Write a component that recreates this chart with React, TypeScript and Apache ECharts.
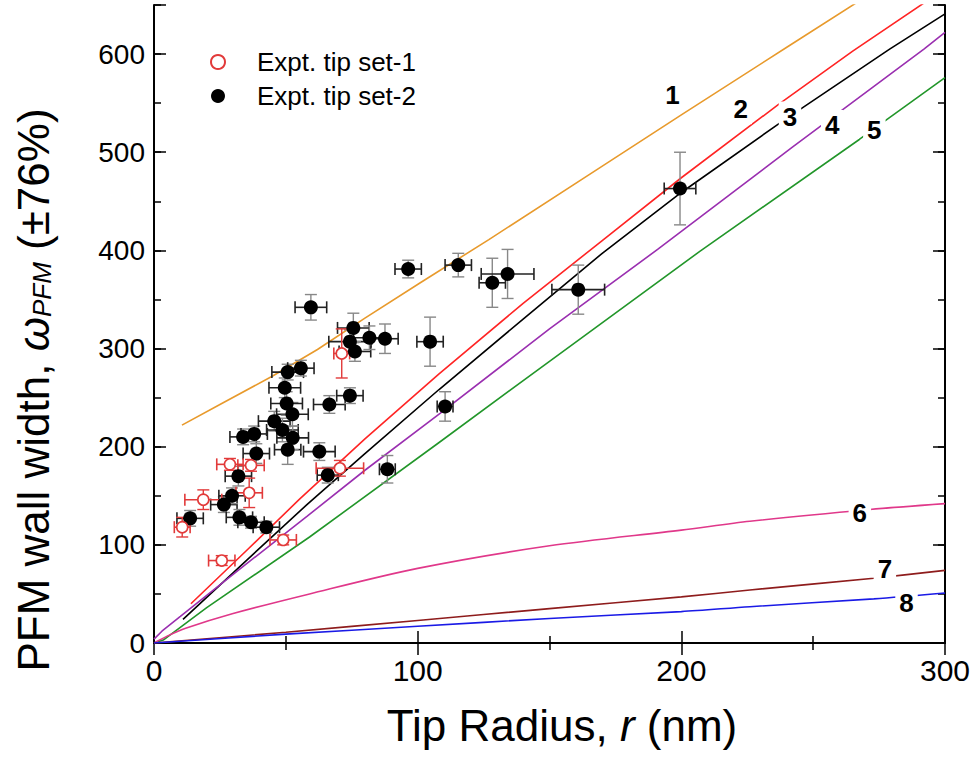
import React, { useEffect, useRef } from "react";
import * as echarts from "echarts";

type Pt = [number, number, number, number]; // r, width, r-error, width-error

const setOneName = "Expt. tip set-1";
const setTwoName = "Expt. tip set-2";

const tipSet1: Pt[] = [
  [10.7, 118, 3, 10],
  [18.7, 146, 7, 10],
  [25.7, 84, 5, 5],
  [28.8, 182, 5, 6],
  [36.1, 153, 5, 15],
  [36.8, 181, 5, 6],
  [49, 105, 5, 5],
  [70.5, 178, 9, 8],
  [71.2, 295, 3, 25],
];

const tipSet2: Pt[] = [
  [13.7, 127, 5, 8],
  [26.5, 141, 5, 8],
  [29.6, 150, 5, 8],
  [32, 170, 5, 10],
  [33.8, 210, 5, 8],
  [38, 213, 5, 8],
  [38.8, 193, 5, 10],
  [32.4, 128, 5, 8],
  [36.8, 123, 5, 6],
  [42.6, 118, 5, 6],
  [45.6, 226, 6, 10],
  [48.7, 217, 6, 12],
  [50.7, 197, 5, 15],
  [52.6, 209, 6, 12],
  [52.5, 233, 6, 12],
  [50.3, 244, 6, 12],
  [49.6, 260, 6, 10],
  [50.7, 276, 6, 8],
  [55.7, 280, 5, 8],
  [59.5, 342, 6, 13],
  [62.7, 195, 6, 9],
  [65.9, 171, 4, 8],
  [66.5, 243, 6, 9],
  [74.3, 252, 5, 8],
  [74.3, 307, 8, 12],
  [75.6, 321, 6, 15],
  [76.2, 297, 6, 10],
  [81.7, 311, 6, 12],
  [87.6, 310, 5, 15],
  [88.5, 177, 3, 14],
  [96.4, 381, 5, 9],
  [104.7, 307, 5, 25],
  [110.4, 241, 3, 15],
  [115.4, 385, 5, 12],
  [128.3, 367, 5, 25],
  [134.1, 376, 10, 25],
  [160.9, 360, 10, 25],
  [199.5, 463, 6, 37],
];

const curve1 = [[10.6, 222], [25, 243], [45, 272], [62, 299], [80, 331], [101, 367], [127, 411], [169, 484], [200, 538], [240, 607], [268, 655]];
const curve2 = [[14, 40], [35, 94], [55, 146], [80, 208], [108, 274], [140, 346], [170, 410], [200, 474], [237, 549], [265, 603], [292, 652]];
const curve3 = [[11, 24], [35, 84], [58, 141], [80, 193], [108, 258], [140, 330], [170, 397], [200, 459], [238, 531], [279, 605], [300, 641]];
const curve4 = [[0, 4], [3, 12], [10, 27], [30, 70], [58, 129], [80, 176], [108.5, 234], [150, 320], [191, 401], [242, 505], [292, 605], [300, 622]];
const curve5 = [[0, 0], [3.5, 3], [20, 36], [59, 108], [108, 204], [150, 287], [207, 399], [267.5, 513], [300, 576]];
const curve6 = [[0, 0], [5, 7], [12, 15], [30, 30], [59, 50], [100, 76], [150, 99], [200, 115], [226, 124], [271.5, 136], [300, 142]];
const curve7 = [[0, 0], [50, 11], [100, 23], [150, 35], [200, 47], [226, 54], [273, 66], [300, 74]];
const curve8 = [[0, 0], [50, 9], [100, 17], [150, 25], [200, 32], [226, 37], [273, 45], [300, 51]];

const curveNames = ["1", "2", "3", "4", "5", "6", "7", "8"];
const curveLabelAt = [
  [196.6, 558.7],
  [222.5, 543.9],
  [241.2, 536.4],
  [257.2, 527.8],
  [273.2, 522.7],
  [267.7, 132.3],
  [277.2, 75.2],
  [285.4, 40.5],
];

const FONT = '"Liberation Sans", Arial, Helvetica, sans-serif';
const curves = [curve1, curve2, curve3, curve4, curve5, curve6, curve7, curve8];
const curveColors = ["#E89A2C", "#FF2424", "#000000", "#9A2FB0", "#22962A", "#E0388A", "#8E1C1C", "#1A1AE6"];
const curveSmooth = [false, false, false, false, false, 0.3, 0.3, 0.3];

function errorBars(data: Pt[], hColor: string, vColor: string, name: string) {
  return {
    type: "custom",
    name,
    z: 3,
    silent: true,
    data,
    encode: { x: 0, y: 1 },
    renderItem: (_p: any, api: any) => {
      const x = api.value(0);
      const y = api.value(1);
      const ex = api.value(2);
      const ey = api.value(3);
      const l = api.coord([x - ex, y]);
      const r = api.coord([x + ex, y]);
      const t = api.coord([x, y + ey]);
      const b = api.coord([x, y - ey]);
      const cap = 6;
      const hs = { stroke: hColor, lineWidth: 1.6, fill: "none" };
      const vs = { stroke: vColor, lineWidth: 1.4, fill: "none" };
      return {
        type: "group",
        children: [
          { type: "line", shape: { x1: l[0], y1: l[1], x2: r[0], y2: r[1] }, style: hs },
          { type: "line", shape: { x1: l[0], y1: l[1] - cap, x2: l[0], y2: l[1] + cap }, style: hs },
          { type: "line", shape: { x1: r[0], y1: r[1] - cap, x2: r[0], y2: r[1] + cap }, style: hs },
          { type: "line", shape: { x1: t[0], y1: t[1], x2: b[0], y2: b[1] }, style: vs },
          { type: "line", shape: { x1: t[0] - cap, y1: t[1], x2: t[0] + cap, y2: t[1] }, style: vs },
          { type: "line", shape: { x1: b[0] - cap, y1: b[1], x2: b[0] + cap, y2: b[1] }, style: vs },
        ],
      };
    },
  };
}

export default function App() {
  const ref = useRef<HTMLDivElement>(null);
  useEffect(() => {
    if (!ref.current) return;
    const chart = echarts.init(ref.current, undefined, { renderer: "svg" });
    const axisLine = { show: true, lineStyle: { color: "#000", width: 2 } };
    const lineSeries = curves.map((c, i) => ({
      type: "line",
      name: "curve" + curveNames[i],
      data: c,
      smooth: curveSmooth[i],
      showSymbol: false,
      symbol: "none",
      silent: true,
      z: 2,
      lineStyle: { color: curveColors[i], width: 1.6 },
    }));
    const labelSeries = {
      type: "scatter",
      name: "curveLabels",
      z: 6,
      silent: true,
      symbolSize: 1,
      itemStyle: { color: "#ffffff", opacity: 0 },
      data: curveLabelAt.map((p, i) => ({ value: p, name: curveNames[i] })),
      label: {
        show: true,
        position: "inside",
        formatter: "{b}",
        fontSize: 26,
        fontWeight: "bold",
        fontFamily: FONT,
        color: "#000000",
        opacity: 1,
        textBorderWidth: 0,
        backgroundColor: "#ffffff",
        padding: [2, 4],
      },
    };
    chart.setOption({
      animation: false,
      backgroundColor: "#fff",
      grid: { left: 154, right: 33, top: 5, bottom: 114, containLabel: false },
      legend: {
        data: [setOneName, setTwoName],
        orient: "vertical",
        left: 205,
        top: 44,
        itemWidth: 68,
        itemHeight: 14,
        itemGap: 8,
        textStyle: { fontSize: 26, fontFamily: FONT, color: "#000", lineHeight: 26 },
      },
      xAxis: [
        {
          type: "value",
          min: 0,
          max: 300,
          interval: 100,
          position: "bottom",
          axisLine,
          axisTick: { show: true, inside: true, length: 12, lineStyle: { color: "#000", width: 1.5 } },
          minorTick: { show: true, splitNumber: 2, length: 7, lineStyle: { color: "#000", width: 1.5 } },
          splitLine: { show: false },
          minorSplitLine: { show: false },
          axisLabel: { fontSize: 30, color: "#000", fontFamily: FONT, margin: 12 },
        },
        {
          type: "value",
          min: 0,
          max: 300,
          interval: 100,
          position: "top",
          axisLine,
          axisTick: { show: true, inside: true, length: 12, lineStyle: { color: "#000", width: 1.5 } },
          minorTick: { show: true, splitNumber: 2, length: 7, lineStyle: { color: "#000", width: 1.5 } },
          splitLine: { show: false },
          axisLabel: { show: false },
        },
      ],
      yAxis: [
        {
          type: "value",
          min: 0,
          max: 650,
          interval: 50,
          position: "left",
          axisLine,
          axisTick: { show: true, inside: true, length: 7, lineStyle: { color: "#000", width: 1.5 } },
          splitLine: { show: false },
          axisLabel: {
            fontSize: 28,
            color: "#000",
            fontFamily: FONT,
            margin: 9,
            formatter: (v: number) => (v % 100 === 0 ? String(v) : ""),
          },
        },
        {
          type: "value",
          min: 0,
          max: 650,
          interval: 100,
          position: "left",
          axisLine: { show: false },
          axisTick: { show: true, inside: true, length: 12, lineStyle: { color: "#000", width: 1.5 } },
          splitLine: { show: false },
          axisLabel: { show: false },
        },
        {
          type: "value",
          min: 0,
          max: 650,
          interval: 50,
          position: "right",
          axisLine,
          axisTick: { show: true, inside: true, length: 7, lineStyle: { color: "#000", width: 1.5 } },
          splitLine: { show: false },
          axisLabel: { show: false },
        },
        {
          type: "value",
          min: 0,
          max: 650,
          interval: 100,
          position: "right",
          axisLine: { show: false },
          axisTick: { show: true, inside: true, length: 12, lineStyle: { color: "#000", width: 1.5 } },
          splitLine: { show: false },
          axisLabel: { show: false },
        },
      ],
      graphic: [
        {
          type: "text",
          x: 33,
          y: 390,
          rotation: Math.PI / 2,
          style: {
            text: "{n|PFM wall width, }{w|ω}{s|PFM}{n| (±76%)}",
            fill: "#000",
            align: "center",
            verticalAlign: "middle",
            textAlign: "center",
            textVerticalAlign: "middle",
            font: "44px " + FONT,
            rich: {
              n: { fontSize: 44, fontFamily: FONT, fill: "#000", color: "#000" },
              w: { fontSize: 44, fontFamily: FONT, fontStyle: "italic", fill: "#000", color: "#000" },
              s: { fontSize: 26, fontFamily: FONT, fontStyle: "italic", fill: "#000", color: "#000", verticalAlign: "bottom", padding: [18, 0, 0, 0] },
            },
          },
        },
        {
          type: "text",
          x: 562,
          y: 725,
          style: {
            text: "{n|Tip Radius, }{i|r}{n| (nm)}",
            fill: "#000",
            align: "center",
            verticalAlign: "middle",
            textAlign: "center",
            textVerticalAlign: "middle",
            font: "44px " + FONT,
            rich: {
              n: { fontSize: 44, fontFamily: FONT, fill: "#000", color: "#000" },
              i: { fontSize: 44, fontFamily: FONT, fontStyle: "italic", fill: "#000", color: "#000" },
            },
          },
        },
      ],
      series: [
        ...lineSeries,
        errorBars(tipSet2, "#222", "#888", "err2"),
        errorBars(tipSet1, "#E23A3A", "#E23A3A", "err1"),
        {
          type: "scatter",
          name: setTwoName,
          z: 4,
          data: tipSet2.map((p) => [p[0], p[1]]),
          symbol: "circle",
          symbolSize: 14,
          itemStyle: { color: "#000", opacity: 1 },
        },
        {
          type: "scatter",
          name: setOneName,
          z: 5,
          data: tipSet1.map((p) => [p[0], p[1]]),
          symbol: "circle",
          symbolSize: 11,
          itemStyle: { color: "#fff", borderColor: "#E23A3A", borderWidth: 1.6, opacity: 1 },
        },
        labelSeries,
      ],
    });
    return () => chart.dispose();
  }, []);
  return (
    <div
      ref={ref}
      style={{ position: "fixed", left: 0, top: 0, width: 978, height: 757, background: "#fff" }}
    />
  );
}
